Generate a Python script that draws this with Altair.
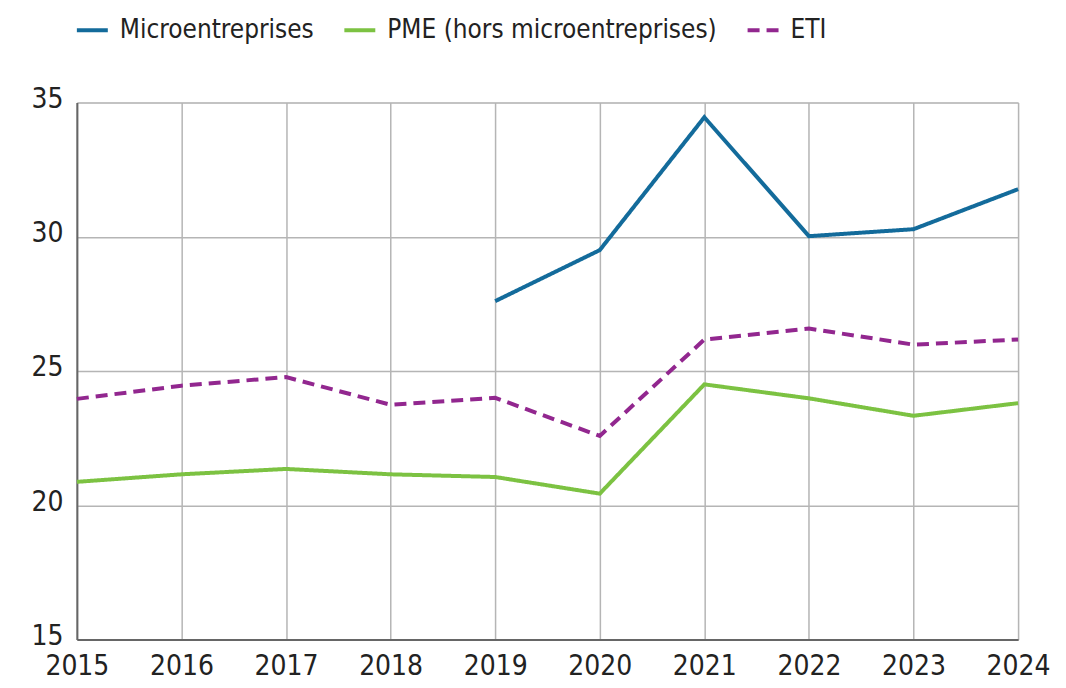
import altair as alt
import pandas as pd

years = [2015, 2016, 2017, 2018, 2019, 2020, 2021, 2022, 2023, 2024]
micro = [None, None, None, None, 27.6, 29.5, 34.45, 30.02, 30.28, 31.77]
pme = [20.87, 21.15, 21.35, 21.15, 21.05, 20.43, 24.5, 23.98, 23.33, 23.8]
eti = [23.96, 24.45, 24.77, 23.74, 24.0, 22.58, 26.17, 26.58, 25.98, 26.17]

series = ["Microentreprises", "PME (hors microentreprises)", "ETI"]
colors = ["#136b9b", "#7cc242", "#92278f"]

rows = []
for name, vals in zip(series, [micro, pme, eti]):
    for y, v in zip(years, vals):
        if v is not None:
            rows.append({"year": y, "value": v, "series": name})
df = pd.DataFrame(rows)

FONT = "DejaVu Sans Condensed, sans-serif"

chart = alt.Chart(df).mark_line(strokeWidth=4, strokeCap="butt").encode(
    x=alt.X("year:Q", scale=alt.Scale(domain=[2015, 2024], nice=False),
            axis=alt.Axis(values=years, format="d", title=None, labelFontSize=28,
                          labelPadding=13, ticks=False, grid=True, gridColor="#b5b5b5",
                          gridWidth=1.5, domainColor="#666666", domainWidth=2,
                          labelColor="#222222", labelFont=FONT, labelOverlap=False,
                          labelBound=False, labelFlush=False)),
    y=alt.Y("value:Q", scale=alt.Scale(domain=[15, 35], nice=False),
            axis=alt.Axis(values=[15, 20, 25, 30, 35], title=None, labelFontSize=28,
                          labelPadding=14, ticks=False, grid=True, gridColor="#b5b5b5",
                          gridWidth=1.5, domainColor="#666666", domainWidth=2,
                          labelColor="#222222", labelFont=FONT, labelOffset=-3,
                          labelOverlap=False, labelFlush=False)),
    color=alt.Color("series:N", scale=alt.Scale(domain=series, range=colors),
                    legend=alt.Legend(title=None, orient="none", direction="horizontal",
                                      legendX=-2, legendY=-90, symbolType="stroke",
                                      symbolSize=961, symbolStrokeWidth=4,
                                      labelFontSize=26, labelFont=FONT, labelColor="#222222",
                                      labelOffset=10, columnPadding=22, labelLimit=500)),
    strokeDash=alt.StrokeDash("series:N", scale=alt.Scale(domain=series, range=[[1, 0], [1, 0], [12, 7]]),
                              legend=None),
).properties(
    width=943, height=538,
    autosize=alt.AutoSizeParams(type="none"),
    padding={"left": 69, "top": 94, "right": 40, "bottom": 44},
).configure_view(stroke="#666666", strokeWidth=2).configure(background="white")

chart.save("out.html", embed_options={"renderer": "svg", "actions": False})
